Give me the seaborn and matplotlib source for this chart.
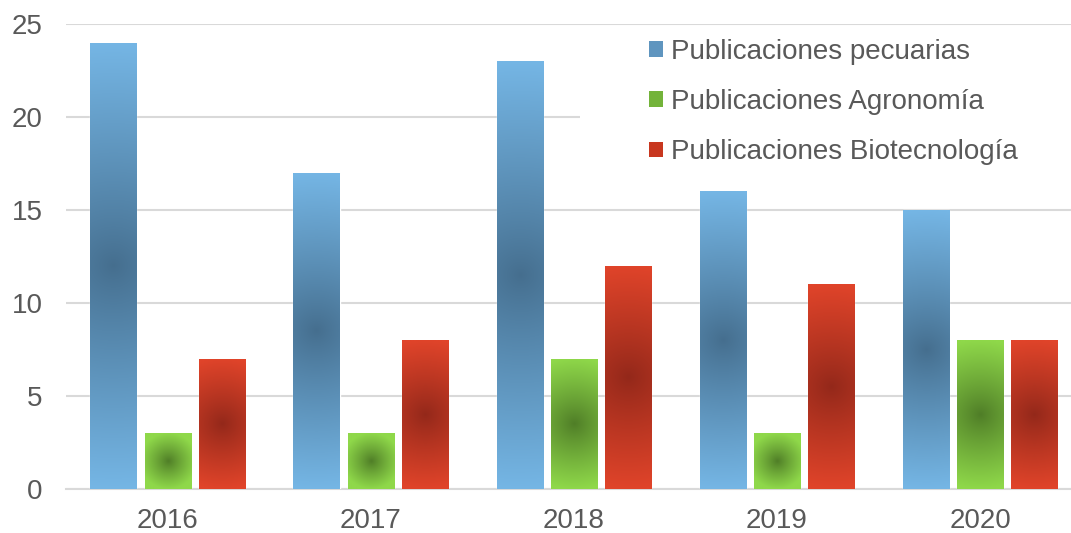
import numpy as np
import pandas as pd
import matplotlib
matplotlib.use("Agg")
import matplotlib.pyplot as plt
from matplotlib.patches import Patch, Rectangle
from matplotlib.colors import to_rgb
import seaborn as sns

years = ["2016", "2017", "2018", "2019", "2020"]
series = ["Publicaciones pecuarias", "Publicaciones Agronomía", "Publicaciones Biotecnología"]
pecuarias = [24, 17, 23, 16, 15]
agronomia = [3, 3, 7, 3, 8]
biotecnologia = [7, 8, 12, 11, 8]

# edge colour / centre colour of the radial fill
edge_colors = ["#75b6e5", "#8fd84a", "#e0442a"]
center_colors = ["#456e8e", "#4f7d27", "#93281a"]

df = pd.DataFrame({
    "year": years * 3,
    "serie": [series[0]] * 5 + [series[1]] * 5 + [series[2]] * 5,
    "value": pecuarias + agronomia + biotecnologia,
})

sns.set_style("white")
plt.rcParams["font.family"] = ["Liberation Sans", "DejaVu Sans"]
text_color = "#595959"

fig = plt.figure(figsize=(10.71, 5.33), dpi=100)
ax = fig.add_axes([66 / 1071, 1 - 489 / 533, 1 - 66 / 1071, (489 - 24) / 533])

sns.barplot(data=df, x="year", y="value", hue="serie", palette=edge_colors,
            width=0.8, gap=0.15, ax=ax, saturation=1, legend=False, zorder=3)

ax.set_xlim(-0.5, 4.448)
ax.set_ylim(0, 25)
ax.set_yticks([0, 5, 10, 15, 20, 25])
ax.yaxis.grid(True, color="#d9d9d9", linewidth=1.5, zorder=0)
ax.set_axisbelow(True)
for s in ["top", "right", "left"]:
    ax.spines[s].set_visible(False)
ax.spines["bottom"].set_color("#d9d9d9")
ax.spines["bottom"].set_linewidth(1.5)
ax.tick_params(axis="both", length=0, labelsize=20, colors=text_color)
ax.tick_params(axis="y", pad=17)
ax.tick_params(axis="x", pad=14)
ax.set_xlabel("")
ax.set_ylabel("")

# radial gradient fill clipped to each bar
fig.canvas.draw()
for k, patch in enumerate(ax.patches):
    if patch.get_height() <= 0:
        continue
    idx = k // len(years)
    bb = patch.get_window_extent()
    w = max(int(round(bb.width)), 2)
    h = max(int(round(bb.height)), 2)
    jj, ii = np.meshgrid(np.arange(w) + 0.5, np.arange(h) + 0.5)
    r = np.hypot(jj - w / 2, ii - h / 2) / (h / 2)
    t = np.clip(r, 0, 1) ** 0.9
    c0 = np.array(to_rgb(center_colors[idx]))
    c1 = np.array(to_rgb(edge_colors[idx]))
    img = c0[None, None, :] * (1 - t[..., None]) + c1[None, None, :] * t[..., None]
    x0 = patch.get_x()
    x1 = x0 + patch.get_width()
    y0 = patch.get_y()
    y1 = y0 + patch.get_height()
    im = ax.imshow(img, extent=[x0, x1, y0, y1], origin="lower",
                   aspect="auto", interpolation="bilinear", zorder=4)
    im.set_clip_path(patch)
ax.set_xlim(-0.5, 4.448)
ax.set_ylim(0, 25)

# white legend area covering the gridline
ax.add_patch(Rectangle((580 / 1071, 1 - 195 / 533), 1 - 580 / 1071, 165 / 533,
                       transform=fig.transFigure, facecolor="white",
                       edgecolor="none", zorder=2))

handles = [Patch(facecolor=c, edgecolor="none") for c in
           ["#5f95bf", "#73b33a", "#c8371f"]]
leg = fig.legend(handles, series, loc="upper left",
                 bbox_to_anchor=(649 / 1071, 1 - 39 / 533),
                 frameon=False, fontsize=20, labelcolor=text_color,
                 handlelength=0.5, handleheight=0.5, handletextpad=0.3,
                 labelspacing=0.87, borderpad=0, borderaxespad=0)

fig.savefig("out.png", dpi=100)
